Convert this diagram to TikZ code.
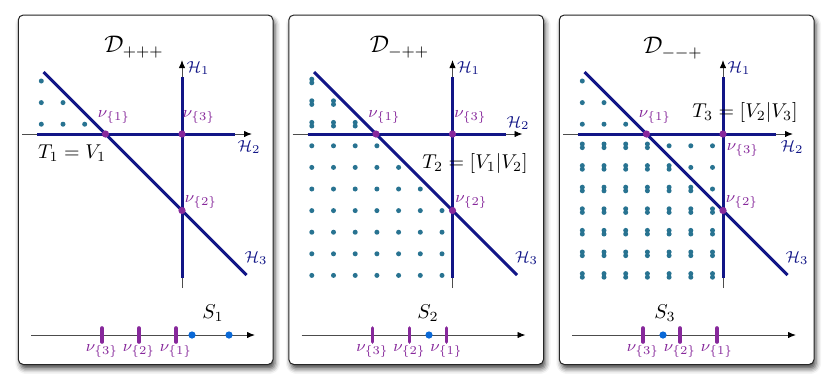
\documentclass[tikz,border=0pt]{standalone}
\usepackage{amsmath}
\usetikzlibrary{arrows.meta,shadows.blur}

\definecolor{hypnavy}{RGB}{18,22,135}
\definecolor{nupurple}{RGB}{135,40,155}
\definecolor{latteal}{RGB}{40,115,145}
\definecolor{ptblue}{RGB}{10,105,215}

\tikzset{
  panelbox/.style={draw=black!85, line width=0.5pt, fill=white, rounded corners=2.5pt,
    blur shadow={shadow xshift=1pt, shadow yshift=-2.2pt, shadow blur radius=2.5pt, shadow opacity=70}},
  axisline/.style={black!70, line width=0.45pt, -{Latex[length=4pt,width=3.2pt,color=black]}},
  hypline/.style={hypnavy, line width=1.5pt},
  meetdot/.style={circle, fill=nupurple, inner sep=0pt, minimum size=3.6pt},
  nulabel/.style={text=nupurple, font=\footnotesize, inner sep=0pt},
  hlabel/.style={text=hypnavy, font=\footnotesize, inner sep=0pt},
  bigtext/.style={font=\normalsize, inner sep=0pt},
  tickmark/.style={nupurple, line width=1.8pt, line cap=round},
  sdot/.style={circle, fill=ptblue, inner sep=0pt, minimum size=3.6pt},
}

% lattice points (column, row)
\newcommand{\latdot}[2]{\fill[latteal] ({41.3+21.7*(#1-1)},{81+21.6*(#2-1)}) circle (1.25pt);}
\newcommand{\latpair}[2]{\fill[latteal] ({41.3+21.7*(#1-1)},{81+21.6*(#2-1)-1.8}) circle (1.25pt)
  ({41.3+21.7*(#1-1)},{81+21.6*(#2-1)+1.8}) circle (1.25pt);}

% parts shared by all three panels
\newcommand{\panelbase}{%
  % Frame
  \path[panelbox] (18.3,15) rectangle (273,364.5);
  % Axes
  \draw[axisline] (22,134) -- (252,134);
  \draw[axisline] (182,288) -- (182,60);
  % Hyperplanes
  \draw[hypline] (37,134) -- (235,134);
  \draw[hypline] (182,278) -- (182,77);
  \draw[hypline] (43.5,72) -- (246.5,275);
  \node[hlabel] (lh1) at (198,68) {$\mathcal{H}_1$};
  \node[hlabel] (lh3) at (256,258) {$\mathcal{H}_3$};
  % Vertices
  \node[meetdot] (nu1) at (105.5,134) {};
  \node[meetdot] (nu2) at (182,210.5) {};
  \node[meetdot] (nu3) at (182,134) {};
  \node[nulabel] (lnu1) at (114,117) {$\nu_{\{1\}}$};
  \node[nulabel] (lnu2) at (201,202) {$\nu_{\{2\}}$};
  % Line S
  \draw[axisline] (31,335) -- (255,335);
  \foreach \n/\x in {3/102, 2/139, 1/176}{
    \draw[tickmark] (\x,328) -- (\x,342);
    \node[nulabel] (tick\n) at (\x,351) {$\nu_{\{\n\}}$};
  }
}

\begin{document}
\begin{tikzpicture}[x=0.5pt, y=-0.5pt]
  \useasboundingbox (0,0) rectangle (830,387);

  % Panel 1
  \begin{scope}[name prefix=p1-]
    \panelbase
    \foreach \j in {1,...,3}{\foreach \i in {1,...,\j}{\latdot{\i}{\j}}}
    \node[bigtext, font=\large] (title) at (134,47) {$\mathcal{D}_{+++}$};
    \node[nulabel] (lnu3) at (199,117) {$\nu_{\{3\}}$};
    \node[hlabel] (lh2) at (249,147) {$\mathcal{H}_2$};
    \node[bigtext] (tset) at (72,153) {$T_1 = V_1$};
    \node[bigtext] (sname) at (213,313) {$S_1$};
    \node[sdot] (s1) at (192,335) {};
    \node[sdot] (s2) at (229,335) {};
  \end{scope}

  % Panel 2
  \begin{scope}[shift={(270.5,0)}, name prefix=p2-]
    \panelbase
    \foreach \j in {1,...,3}{\foreach \i in {1,...,\j}{\latpair{\i}{\j}}}
    \foreach \j in {4,...,10}{\foreach \i in {1,...,7}{\ifnum\i>\j\else\latdot{\i}{\j}\fi}}
    \node[bigtext, font=\large] (title) at (129,47) {$\mathcal{D}_{-++}$};
    \node[nulabel] (lnu3) at (200,117) {$\nu_{\{3\}}$};
    \node[hlabel] (lh2) at (247.5,123) {$\mathcal{H}_2$};
    \node[bigtext] (tset) at (204.5,163) {$T_2 = [V_1|V_2]$};
    \node[bigtext] (sname) at (157.5,313) {$S_2$};
    \node[sdot] (s1) at (158.5,335) {};
  \end{scope}

  % Panel 3
  \begin{scope}[shift={(541,0)}, name prefix=p3-]
    \panelbase
    \foreach \j in {1,...,3}{\foreach \i in {1,...,\j}{\latdot{\i}{\j}}}
    \foreach \j in {4,...,10}{\foreach \i in {1,...,7}{\ifnum\i>\j\latdot{\i}{\j}\else\latpair{\i}{\j}\fi}}
    \node[bigtext, font=\large] (title) at (132,48) {$\mathcal{D}_{--+}$};
    \node[nulabel] (lnu3) at (202,150) {$\nu_{\{3\}}$};
    \node[hlabel] (lh2) at (251,147) {$\mathcal{H}_2$};
    \node[bigtext] (tset) at (204,112) {$T_3 = [V_2|V_3]$};
    \node[bigtext] (sname) at (124,313) {$S_3$};
    \node[sdot] (s1) at (122,335) {};
  \end{scope}
\end{tikzpicture}
\end{document}
